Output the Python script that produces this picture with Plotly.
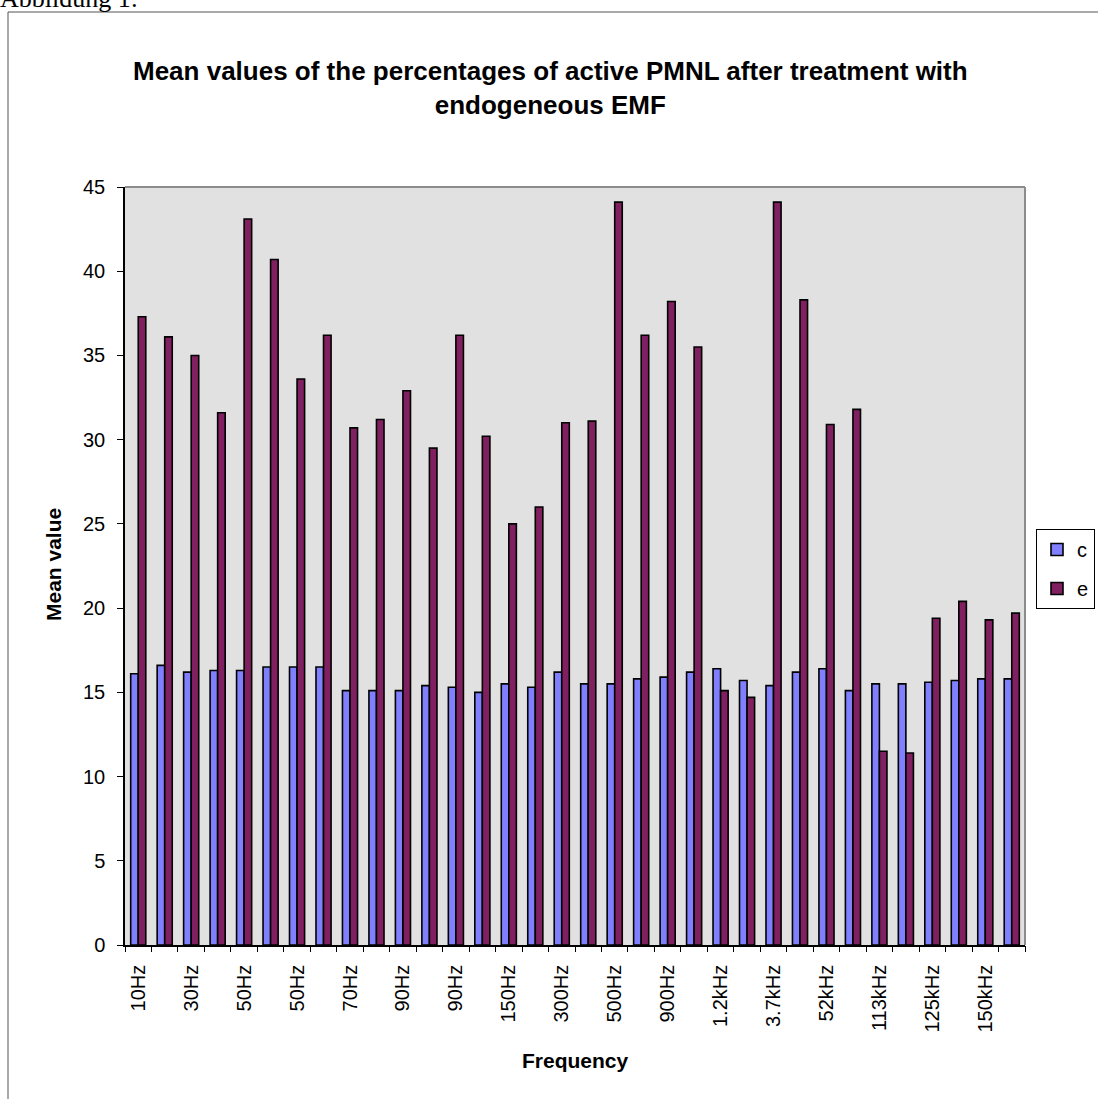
import plotly.graph_objects as go

# Mean percentage of active PMNL per frequency setting: control (c) and exposed (e)
n_groups = 34
group_index = list(range(n_groups))

c_values = [16.1, 16.6, 16.2, 16.3, 16.3, 16.5, 16.5, 16.5, 15.1, 15.1, 15.1, 15.4,
            15.3, 15.0, 15.5, 15.3, 16.2, 15.5, 15.5, 15.8, 15.9, 16.2, 16.4, 15.7,
            15.4, 16.2, 16.4, 15.1, 15.5, 15.5, 15.6, 15.7, 15.8, 15.8]
e_values = [37.3, 36.1, 35.0, 31.6, 43.1, 40.7, 33.6, 36.2, 30.7, 31.2, 32.9, 29.5,
            36.2, 30.2, 25.0, 26.0, 31.0, 31.1, 44.1, 36.2, 38.2, 35.5, 15.1, 14.7,
            44.1, 38.3, 30.9, 31.8, 11.5, 11.4, 19.4, 20.4, 19.3, 19.7]

# Only every second group carries a frequency label on the axis
label_positions = list(range(0, n_groups, 2))
freq_labels = ["10Hz", "30Hz", "50Hz", "50Hz", "70Hz", "90Hz", "90Hz", "150Hz",
               "300Hz", "500Hz", "900Hz", "1.2kHz", "3.7kHz", "52kHz", "113kHz",
               "125kHz", "150kHz"]

y_ticks = [0, 5, 10, 15, 20, 25, 30, 35, 40, 45]

FONT = "Liberation Sans, Arial, sans-serif"
W, H = 1098, 1099
ML, MR, MT, MB = 125, 73, 187, 154
PW, PH = W - ML - MR, H - MT - MB


def px_x(px):
    return (px - ML) / PW


def px_y(py):
    return (H - MB - py) / PH


fig = go.Figure()
fig.add_trace(go.Bar(
    x=group_index, y=c_values, name="c", legendgroup="c",
    marker=dict(color="#8080FF", line=dict(color="black", width=1.6)),
))
fig.add_trace(go.Bar(
    x=group_index, y=e_values, name="e", legendgroup="e",
    marker=dict(color="#802060", line=dict(color="black", width=1.6)),
))
# invisible carrier for the boundary tick marks on the second x axis
fig.add_trace(go.Scatter(x=[-0.5], y=[0], xaxis="x2", mode="markers",
                         marker=dict(opacity=0), showlegend=False, hoverinfo="skip"))

fig.update_layout(
    width=W, height=H,
    margin=dict(l=ML, r=MR, t=MT, b=MB, autoexpand=False),
    paper_bgcolor="white",
    plot_bgcolor="#E1E1E1",
    barmode="group",
    bargap=0.43,
    bargroupgap=0,
    font=dict(family=FONT, size=20, color="black"),
    xaxis=dict(
        range=[-0.5, n_groups - 0.5],
        tickmode="array", tickvals=label_positions, ticktext=freq_labels,
        tickangle=-90, ticks="", ticklabelstandoff=10,
        showline=True, linecolor="black", linewidth=1.5,
        showgrid=False, zeroline=False,
        tickfont=dict(size=20),
    ),
    xaxis2=dict(
        overlaying="x", anchor="y", side="bottom",
        range=[-0.5, n_groups - 0.5],
        tickmode="array", tickvals=[i - 0.5 for i in range(n_groups + 1)],
        ticks="outside", ticklen=6, tickcolor="black", tickwidth=1,
        showticklabels=False, showgrid=False, zeroline=False, showline=False,
    ),
    yaxis=dict(
        range=[0, 45], tickmode="array", tickvals=y_ticks,
        ticks="outside", ticklen=6, tickcolor="black", tickwidth=1,
        ticklabelstandoff=8,
        showline=True, linecolor="black", linewidth=1.5,
        showgrid=False, zeroline=False,
        tickfont=dict(size=20),
    ),
    legend=dict(
        x=px_x(1095), y=px_y(529), xanchor="right", yanchor="top",
        bordercolor="black", borderwidth=1, bgcolor="white",
        font=dict(size=20), tracegroupgap=10, itemwidth=30,
    ),
    showlegend=True,
)

# title, axis titles and the caption that sits above the chart frame
fig.add_annotation(
    text="Mean values of the percentages of active PMNL after treatment with<br>endogeneous EMF",
    xref="paper", yref="paper", x=px_x(550), y=px_y(88),
    xanchor="center", yanchor="middle", showarrow=False,
    font=dict(size=26, family=FONT, weight="bold"),
)
fig.add_annotation(
    text="Mean value", textangle=-90,
    xref="paper", yref="paper", x=px_x(53), y=px_y(565),
    xanchor="center", yanchor="middle", showarrow=False,
    font=dict(size=21, family=FONT, weight="bold"),
)
fig.add_annotation(
    text="Frequency",
    xref="paper", yref="paper", x=px_x(575), y=px_y(1060),
    xanchor="center", yanchor="middle", showarrow=False,
    font=dict(size=21, family=FONT, weight="bold"),
)
fig.add_annotation(
    text="Abbildung 1:",
    xref="paper", yref="paper", x=px_x(-2), y=px_y(15),
    xanchor="left", yanchor="bottom", showarrow=False,
    font=dict(size=26, family="Liberation Serif, Times New Roman, serif"),
)

# chart frame and the grey top/right edges of the plot area
fig.add_shape(type="rect", xref="paper", yref="paper",
              x0=px_x(8), x1=px_x(1110), y0=px_y(1110), y1=px_y(12),
              line=dict(color="#555555", width=1), layer="below")
fig.add_shape(type="line", xref="paper", yref="paper", x0=0, x1=1, y0=1, y1=1,
              line=dict(color="#8C8C8C", width=2))
fig.add_shape(type="line", xref="paper", yref="paper", x0=1, x1=1, y0=0, y1=1,
              line=dict(color="#8C8C8C", width=2))

fig.write_html("out.html")
